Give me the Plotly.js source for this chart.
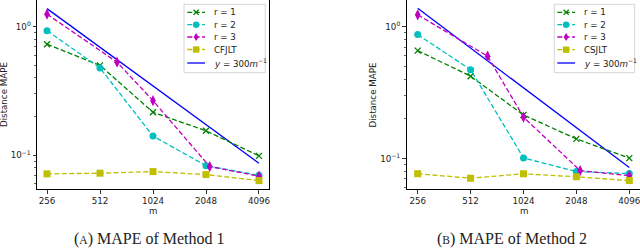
<!DOCTYPE html>
<html><head><meta charset="utf-8">
<script src="https://cdn.plot.ly/plotly-3.0.1.min.js"></script>
<style>html,body{margin:0;padding:0;background:#fff}#chart{width:640px;height:248px}</style>
</head><body><div id="chart"></div>
<script>
// ---- data ----
const mTicks = [256, 512, 1024, 2048, 4096];
const mTickText = ['256', '512', '1024', '2048', '4096'];
const mR3 = [256, 640, 1024, 2150, 4096];
// Method 1
const m1R1 = [0.73, 0.50, 0.216, 0.155, 0.099];
const m1R2 = [0.93, 0.478, 0.141, 0.083, 0.070];
const m1R3 = [1.25, 0.529, 0.266, 0.0817, 0.0688];
const m1Base = [0.0717, 0.0726, 0.0747, 0.0708, 0.0636];
// Method 2
const m2R1 = [0.658, 0.421, 0.214, 0.141, 0.1007];
const m2R2 = [0.87, 0.472, 0.101, 0.0797, 0.0769];
const m2R3 = [1.23, 0.597, 0.206, 0.081, 0.074];
const m2Base = [0.0766, 0.071, 0.0766, 0.0727, 0.068];
// reference line y = 300 m^-1 (as drawn)
const refM = [256, 4096];
const ref1 = [1.38, 0.0868];
const ref2 = [1.38, 0.0855];
// labels
const labels1 = ['r = 1', 'r = 2', 'r = 3', 'CFJLT', '<i>y</i> = 300<i>m</i><sup>−1</sup>'];
const labels2 = ['r = 1', 'r = 2', 'r = 3', 'CSJLT', '<i>y</i> = 300<i>m</i><sup>−1</sup>'];
const captions = ['(<span style="font-size:11.5px">A</span>) MAPE of Method 1', '(<span style="font-size:11.5px">B</span>) MAPE of Method 2'];

// ---- styles ----
const W = 640, H = 248;
const G = '#008000', C = '#00bfbf', M = '#bf00bf', Y = '#bfbf00', B = '#0000ff';
const DASH = '5px,2.4px';
const LW = 1.3;
const FS = 8.7;
const styles = [
  {color: G, marker: {symbol: 'x-thin', size: 6, line: {width: 1.3, color: G}, color: G}},
  {color: C, marker: {symbol: 'circle', size: 7, color: C}},
  {color: M, marker: {symbol: 'diamond-tall', size: 8, color: M}},
  {color: Y, marker: {symbol: 'square', size: 7, color: Y}}
];

function mk(x, y, st, xa, ya) {
  return {x: x, y: y, type: 'scatter', mode: 'lines+markers', xaxis: xa, yaxis: ya,
    line: {color: st.color, width: LW, dash: DASH}, marker: st.marker, showlegend: false, hoverinfo: 'skip'};
}
function refTrace(y, xa, ya) {
  return {x: refM, y: y, type: 'scatter', mode: 'lines', xaxis: xa, yaxis: ya,
    line: {color: B, width: 1.3}, showlegend: false, hoverinfo: 'skip'};
}
const data = [
  refTrace(ref1, 'x', 'y'),
  mk(mTicks, m1R1, styles[0], 'x', 'y'),
  mk(mTicks, m1R2, styles[1], 'x', 'y'),
  mk(mR3, m1R3, styles[2], 'x', 'y'),
  mk(mTicks, m1Base, styles[3], 'x', 'y'),
  refTrace(ref2, 'x2', 'y2'),
  mk(mTicks, m2R1, styles[0], 'x2', 'y2'),
  mk(mTicks, m2R2, styles[1], 'x2', 'y2'),
  mk(mR3, m2R3, styles[2], 'x2', 'y2'),
  mk(mTicks, m2Base, styles[3], 'x2', 'y2')
];

const fx = x => x / W, fy = y => 1 - y / H;
const tickFont = {family: 'DejaVu Sans', size: FS, color: '#222'};
function xax(domain, range) {
  return {type: 'log', domain: domain, range: range, tickvals: mTicks, ticktext: mTickText,
    ticks: 'outside', ticklen: 3.5, tickwidth: 0.8, tickcolor: '#000', showline: true, linecolor: '#000',
    linewidth: 1, mirror: true, showgrid: false, zeroline: false, tickfont: tickFont, fixedrange: true,
    automargin: false, ticklabeloverflow: 'allow'};
}
function yax(range, anchor) {
  return {type: 'log', domain: [59 / H, 1], range: range, tickvals: [0.1, 1],
    ticktext: ['10<sup>−1</sup>', '10<sup>0</sup>'], anchor: anchor,
    ticks: 'outside', ticklen: 3.5, tickwidth: 0.8, tickcolor: '#000', showline: true, linecolor: '#000',
    linewidth: 1, mirror: true, showgrid: false, zeroline: false, tickfont: tickFont, automargin: false,
    ticklabeloverflow: 'allow',
    minor: {tickmode: 'array', tickvals: [0.05, 0.06, 0.07, 0.08, 0.09, 0.2, 0.3, 0.4, 0.5, 0.6, 0.7, 0.8, 0.9, 2, 3],
      ticks: 'outside', ticklen: 2, tickwidth: 0.6, tickcolor: '#000', showgrid: false}, fixedrange: true};
}

const shapes = [], annotations = [];
function legend(bx0, bx1, by0, by1, sx0, sx1, tx, rows, labels) {
  shapes.push({type: 'rect', xref: 'paper', yref: 'paper', x0: fx(bx0), x1: fx(bx1), y0: fy(by0), y1: fy(by1),
    line: {color: '#cccccc', width: 0.8}, fillcolor: 'rgba(255,255,255,0.8)', layer: 'above'});
  const cols = [G, C, M, Y, B];
  const mx = (sx0 + sx1) / 2;
  rows.forEach((ry, i) => {
    shapes.push({type: 'line', xref: 'paper', yref: 'paper', x0: fx(sx0), x1: fx(sx1), y0: fy(ry), y1: fy(ry),
      line: {color: cols[i], width: LW, dash: i < 4 ? DASH : 'solid'}, layer: 'above'});
    const base = {xref: 'paper', yref: 'paper', layer: 'above'};
    if (i === 0) {
      const r = 2.6;
      shapes.push(Object.assign({type: 'path', path: `M${fx(mx - r)},${fy(ry - r)} L${fx(mx + r)},${fy(ry + r)} M${fx(mx - r)},${fy(ry + r)} L${fx(mx + r)},${fy(ry - r)}`,
        line: {color: G, width: 1.3}}, base));
    } else if (i === 1) {
      const r = 3.2;
      shapes.push(Object.assign({type: 'circle', x0: fx(mx - r), x1: fx(mx + r), y0: fy(ry - r), y1: fy(ry + r),
        fillcolor: C, line: {color: C, width: 0}}, base));
    } else if (i === 2) {
      const rx = 2.5, ryy = 4;
      shapes.push(Object.assign({type: 'path', path: `M${fx(mx)},${fy(ry - ryy)} L${fx(mx + rx)},${fy(ry)} L${fx(mx)},${fy(ry + ryy)} L${fx(mx - rx)},${fy(ry)} Z`,
        fillcolor: M, line: {color: M, width: 0}}, base));
    } else if (i === 3) {
      const r = 3.2;
      shapes.push(Object.assign({type: 'rect', x0: fx(mx - r), x1: fx(mx + r), y0: fy(ry - r), y1: fy(ry + r),
        fillcolor: Y, line: {color: Y, width: 0}}, base));
    }
    annotations.push({xref: 'paper', yref: 'paper', x: fx(tx), y: fy(ry), xanchor: 'left', yanchor: 'middle',
      text: labels[i], showarrow: false, font: {family: 'DejaVu Sans', size: FS, color: '#222'}});
  });
}
legend(184, 265.3, 4.3, 72.7, 187.3, 205, 212.3, [12.3, 24.7, 37, 49.5, 63], labels1);
legend(554.3, 634.7, 4.3, 72.7, 557.3, 575, 582.3, [12.3, 24.7, 37, 49.7, 63], labels2);

function txt(x, y, text, size, family, angle) {
  annotations.push({xref: 'paper', yref: 'paper', x: fx(x), y: fy(y), xanchor: 'center', yanchor: 'middle',
    text: text, showarrow: false, textangle: angle || 0, font: {family: family, size: size, color: '#222'}});
}
txt(4, 95, 'Distance MAPE', FS, 'DejaVu Sans', -90);
txt(372.5, 95, 'Distance MAPE', FS, 'DejaVu Sans', -90);
txt(153, 211, 'm', FS, 'DejaVu Sans');
txt(524, 211, 'm', FS, 'DejaVu Sans');
txt(149, 239, captions[0], 16, 'Liberation Serif');
txt(512, 239, captions[1], 16, 'Liberation Serif');

const layout = {
  width: W, height: H, margin: {l: 0, r: 0, t: 0, b: 0, autoexpand: false}, paper_bgcolor: '#fff', plot_bgcolor: '#fff',
  showlegend: false,
  xaxis: Object.assign(xax([37 / W, 269 / W], [2.3514, 3.6692]), {anchor: 'y'}),
  yaxis: yax([-1.262, 0.207], 'x'),
  xaxis2: Object.assign(xax([406.5 / W, 639.5 / W], [2.3445, 3.6704]), {anchor: 'y2'}),
  yaxis2: yax([-1.231, 0.202], 'x2'),
  shapes: shapes, annotations: annotations
};
Plotly.newPlot('chart', data, layout, {staticPlot: true, displayModeBar: false});
</script></body></html>
